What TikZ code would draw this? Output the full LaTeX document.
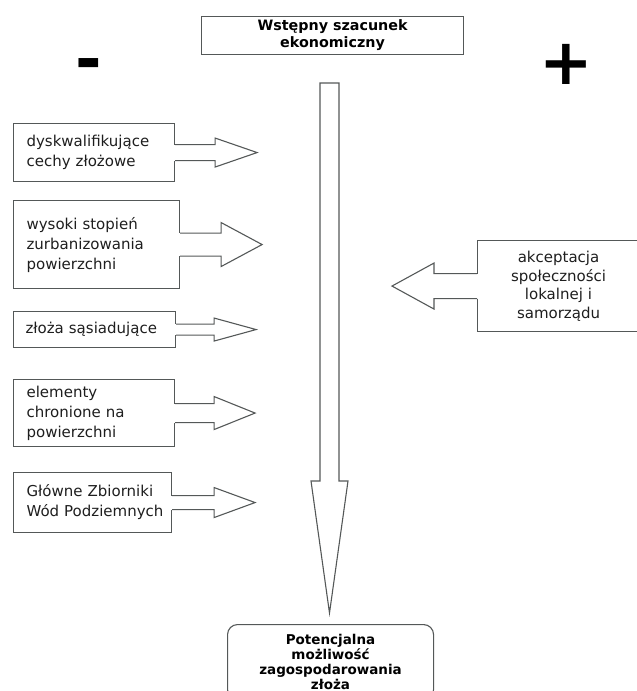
\documentclass[tikz,border=0pt]{standalone}
\usepackage{fontspec}
\setmainfont{DejaVu Sans}
\usepackage{tikz}
\usetikzlibrary{positioning}

\definecolor{linegray}{RGB}{84,88,88}
\definecolor{txtgray}{RGB}{30,30,30}

\begin{document}
\begin{tikzpicture}[x=1pt, y=-1pt,
        box/.style={draw=linegray, line width=1.1pt, anchor=north west,
            inner xsep=13pt, inner ysep=0pt, align=left, text=txtgray,
            font=\fontsize{15}{20}\selectfont},
        outline/.style={draw=linegray, line width=1.1pt, line join=miter},
        sign/.style={inner sep=0pt, font=\fontsize{64}{64}\selectfont\bfseries}]
        \useasboundingbox (0,0) rectangle (637,691);

        % top and bottom
        \node[draw=linegray, line width=1.1pt, anchor=north west, minimum width=262pt,
            minimum height=38pt, inner sep=0pt, align=center,
            font=\fontsize{14.3}{17}\selectfont\bfseries] (szacunek) at (201,16)
            {Wstępny szacunek\\ekonomiczny};
        \node[draw=linegray, line width=1.1pt, rounded corners=10pt, anchor=north west,
            minimum width=206pt, minimum height=75pt, inner sep=0pt, align=center,
            font=\fontsize{13.5}{15}\selectfont\bfseries] (mozliwosc) at (227,624)
            {Potencjalna\\możliwość\\zagospodarowania\\złoża};

        \node[sign] (minus) at (89,70) {-};
        \node[sign] (plus) at (566,64) {+};

        % big arrow
        \coordinate (atop) at (329.5,83);
        \coordinate (atip) at (329.5,613);
        \draw[outline] (atop) ++(-9.5,0) -- ++(19,0) -- (339,481) -- (348,481)
            -- (atip) -- (311,481) -- (320,481) -- cycle;

        % minus side
        \node[box, text width=135pt, minimum height=58pt] (b1) at (13,123)
            {dyskwalifikujące\\cechy złożowe};
        \node[box, text width=140pt, minimum height=88pt] (b2) at (13,200)
            {wysoki stopień\\zurbanizowania\\powierzchni};
        \node[box, inner xsep=12pt, text width=138pt, minimum height=36pt] (b3) at (13,311)
            {złoża sąsiadujące};
        \node[box, text width=135pt, minimum height=67pt] (b4) at (13,379)
            {elementy\\chronione na\\powierzchni};
        \node[box, text width=132pt, minimum height=60pt] (b5) at (13,472)
            {Główne Zbiorniki\\\mbox{Wód Podziemnych}};

        \foreach \b/\w/\hx/\hw/\tx in {b1/8/40/14.5/82, b2/11.5/41/22/82,
                b3/5.5/38/11.5/80, b4/9.5/39/16.5/80, b5/7/42/15/83} {
            \fill[white, shift={(\b.east)}] (-1,-\w) rectangle (1,\w);
            \draw[outline, shift={(\b.east)}] (0,-\w) -- (\hx,-\w) -- (\hx,-\hw)
                -- (\tx,0) -- (\hx,\hw) -- (\hx,\w) -- (0,\w);
        }

        % plus side
        \node[box, anchor=north west, inner xsep=0pt, text width=162pt, align=center,
            minimum height=91pt, font=\fontsize{15}{18.5}\selectfont] (r1) at (477,240)
            {akceptacja\\społeczności\\lokalnej i\\samorządu};
        \fill[white, shift={(r1.west)}] (-1,-12.5) rectangle (1,12.5);
        \draw[outline, shift={(r1.west)}] (0,-12.5) -- (-43,-12.5) -- (-43,-23)
            -- (-85,0) -- (-43,23) -- (-43,12.5) -- (0,12.5);

\end{tikzpicture}
\end{document}
